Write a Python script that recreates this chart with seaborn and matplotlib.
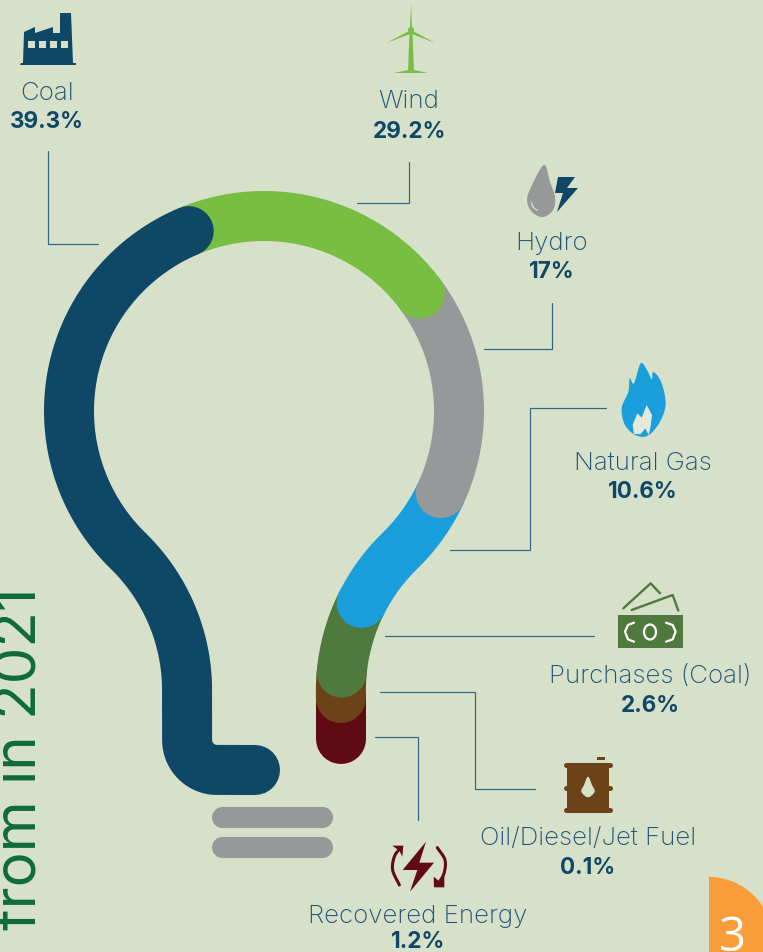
import numpy as np
import pandas as pd
import matplotlib
matplotlib.use('Agg')
import matplotlib.pyplot as plt
import seaborn as sns
from matplotlib.patches import Polygon, Rectangle, Wedge, Circle, Ellipse

# values
sources = ['Coal', 'Wind', 'Hydro', 'Natural Gas', 'Purchases (Coal)', 'Oil/Diesel/Jet Fuel', 'Recovered Energy']
shares = [39.3, 29.2, 17, 10.6, 2.6, 0.1, 1.2]
side_text = 'from in 2021'
page_number = '3'

# colours
BG = '#d7e0c9'
NAVY = '#0f4767'
GREEN = '#78be43'
GREY = '#97989a'
BLUE = '#1a9fdc'
MONEY = '#4f7a3d'
BROWN = '#6c4319'
MAROON = '#600a14'
LEAD = '#2f6589'
TEXT = '#1d5377'
colors = [NAVY, GREEN, GREY, BLUE, MONEY, BROWN, MAROON]

sns.set_theme(style='white')
plt.rcParams['font.family'] = ['Inter', 'DejaVu Sans']

fig = plt.figure(figsize=(7.63, 9.52), dpi=100, facecolor=BG)
ax = fig.add_axes([0, 0, 1, 1], facecolor=BG)


# smooth curve through some points (catmull-rom), only for the icons
def smooth(pts, n=24, closed=False):
    p = np.array(pts, dtype=float)
    if closed:
        p = np.vstack([p[-1], p, p[0], p[1]])
    else:
        p = np.vstack([2 * p[0] - p[1], p, 2 * p[-1] - p[-2]])
    out = []
    for i in range(1, len(p) - 2):
        for t in np.linspace(0, 1, n, endpoint=False):
            a = 2 * p[i] + (p[i + 1] - p[i - 1]) * t
            b = (2 * p[i - 1] - 5 * p[i] + 4 * p[i + 1] - p[i + 2]) * t ** 2
            c = (-p[i - 1] + 3 * p[i] - 3 * p[i + 1] + p[i + 2]) * t ** 3
            out.append(0.5 * (a + b + c))
    out.append(p[-2])
    return np.array(out)


def arc(a0, a1, cx=264, cy=411, r=195, n=80):
    t = np.radians(np.linspace(a0, a1, n))
    return np.column_stack([cx + r * np.cos(t), cy + r * np.sin(t)])


# centre line of the bulb, one piece per source
# the neck is two more circles touching the globe, so they must sit exactly 2r away
TOUCH = 45.8
neck_dx = 390 * np.cos(np.radians(TOUCH))
neck_y = 411 + 390 * np.sin(np.radians(TOUCH))
right_cx = 264 + neck_dx
left_cx = 264 - neck_dx
left_x = left_cx + 195
right_x = right_cx - 195

coal_path = np.vstack([
    [[255, 770], [left_x + 30, 770]],
    arc(90, 180, left_x + 30, 740, 30, 20)[1:],
    arc(0, -TOUCH, left_cx, neck_y, 195),
    arc(180 - TOUCH, 247.3)[1:],
])
wind_path = arc(247.3, 323)
hydro_path = arc(323, 384.9)
gas_path = np.vstack([arc(24.9, TOUCH), arc(180 + TOUCH, 206.7, right_cx, neck_y, 195)[1:]])
purchases_path = arc(206.7, 185.3, right_cx, neck_y, 195)
oil_path = np.vstack([arc(185.3, 180, right_cx, neck_y, 195), [[right_x, 698]]])
recovered_path = np.array([[right_x, 698], [right_x, 739]])
paths = [coal_path, wind_path, hydro_path, gas_path, purchases_path, oil_path, recovered_path]

# the tail piece goes first, coal ends up on top
for i in range(len(sources) - 1, -1, -1):
    seg = pd.DataFrame({'x': paths[i][:, 0], 'y': paths[i][:, 1]})
    sns.lineplot(data=seg, x='x', y='y', ax=ax, sort=False, estimator=None, color=colors[i],
                 linewidth=36, solid_capstyle='round', solid_joinstyle='round', legend=False)

# bulb screw bars
for yb in [816.5, 846.5]:
    ax.plot([221.5, 321.5], [yb, yb], color=GREY, lw=15.2, solid_capstyle='round')

# leader lines
leaders = [
    [(47.5, 151), (47.5, 243.5), (97.5, 243.5)],
    [(409, 162), (409, 203), (357, 203)],
    [(552, 303), (552, 349), (483.5, 349)],
    [(606, 408), (530, 408), (530, 550), (450, 550)],
    [(385, 636), (594, 636)],
    [(380, 692), (474.5, 692), (474.5, 789), (535, 789)],
    [(375, 737), (418, 737), (418, 820)],
]
for pts in leaders:
    xs, ys = zip(*pts)
    ax.plot(xs, ys, color=LEAD, lw=0.85, solid_joinstyle='miter')

# labels
label_pos = [(47, 92, 121), (409, 100, 130), (552, 242, 271), (643, 462, 491),
             (650, 675, 704), (588, 837, 866), (418, 915, 940)]
for name, val, (lx, y1, y2) in zip(sources, shares, label_pos):
    ax.text(lx, y1 + 1.5, name, ha='center', va='center', fontsize=18.6, color=TEXT, fontweight='light')
    ax.text(lx, y2 + 1.5, f'{val:g}%', ha='center', va='center', fontsize=16.2, color=NAVY, fontweight='bold')


def poly(pts, c, z=3):
    ax.add_patch(Polygon(pts, closed=True, facecolor=c, edgecolor='none', zorder=z))


# factory
poly([(24, 32), (35, 27), (35, 33), (53, 27), (53, 33), (60, 33), (60, 13), (71, 13), (73, 63),
      (76, 63), (76, 65), (20, 65), (21, 63), (23, 63)], NAVY)
for wx in [28, 38.5, 49.5, 60.5]:
    ax.add_patch(Rectangle((wx, 41), 7, 7, facecolor=BG, edgecolor='none', zorder=4))

# wind turbine
poly([(409.5, 32), (412.5, 32), (414, 72), (408, 72)], GREEN)
poly([(394, 73), (428, 73), (414, 70), (408, 70)], GREEN)
poly([(410, 28), (411, 4), (412, 28)], GREEN)
poly([(409, 31), (386.5, 43), (410, 34)], GREEN)
poly([(413, 31), (435, 43), (412, 34)], GREEN)
ax.add_patch(Circle((411, 30), 3, facecolor=GREEN, edgecolor='none', zorder=3))

# hydro drop + bolt
poly(smooth([(544, 165), (550, 182), (555, 197), (553, 210), (543, 217), (532, 212), (527, 200),
             (532, 185)], closed=True), GREY)
poly(smooth([(532, 202), (534, 207), (538, 210)], n=6).tolist() + [(537, 211), (532, 207), (531, 202)], BG)
poly([(556, 177), (574, 177), (566, 189), (577, 189), (557, 212), (562, 193), (555, 193)], BG, 3)
poly([(558, 177), (575, 177), (567, 188), (578, 188), (557, 212), (563, 193), (555, 193)], NAVY, 4)


# flame, zoom pixel coords -> picture
def zz(pts):
    return [(x / 3 + 280, y / 3 + 350) for x, y in pts]


poly(smooth(zz([(1082, 40), (1102, 62), (1115, 88), (1120, 66), (1143, 95), (1157, 160), (1140, 215),
                (1105, 256), (1068, 256), (1035, 225), (1025, 175), (1045, 125), (1049, 85), (1062, 100)]),
            closed=True), BLUE)
poly(zz([(1100, 165), (1116, 195), (1112, 228), (1106, 255), (1096, 235), (1082, 252), (1062, 252), (1058, 225),
         (1072, 190), (1085, 203)]), '#e4eadb', 4)

# money
poly(zz([(1013, 795), (1208, 795), (1208, 895), (1013, 895)]), MONEY)
ax.add_patch(Ellipse((650, 632), 12, 15, facecolor='none', edgecolor='white', lw=1.6, zorder=4))
ax.plot(*zip(*zz([(1062, 818), (1044, 825), (1035, 845), (1044, 868), (1062, 875)])), color='white', lw=1.6, zorder=4)
ax.plot(*zip(*zz([(1158, 818), (1178, 825), (1187, 845), (1178, 868), (1158, 875)])), color='white', lw=1.6, zorder=4)
ax.plot(*zip(*zz([(1030, 775), (1112, 700), (1140, 730)])), color=MONEY, lw=1.7, zorder=3)
ax.plot(*zip(*zz([(1055, 780), (1178, 735), (1195, 782)])), color=MONEY, lw=1.7, zorder=3)


def zb(pts):
    return [(x / 3 + 360, y / 3 + 680) for x, y in pts]


# oil barrel
poly(zb([(622, 248), (748, 248), (748, 395), (622, 395)]), BROWN)
for y0, y1 in [(245, 262), (315, 332), (382, 398)]:
    ax.plot(*zip(*zb([(618, (y0 + y1) / 2), (750, (y0 + y1) / 2)])), color=BROWN, lw=3.6,
            solid_capstyle='round', zorder=3)
poly(zb([(712, 232), (735, 232), (735, 241), (712, 241)]), BROWN)
poly(smooth(zb([(684, 290), (696, 315), (704, 335), (684, 352), (664, 335), (672, 315)]), closed=True), BG, 4)

# recovered energy
poly(zb([(198, 485), (128, 570), (172, 570), (150, 635), (222, 548), (178, 548)]), MAROON)
ax.plot(*zip(*smooth(zb([(118, 615), (98, 570), (103, 530), (120, 505)]))), color=MAROON, lw=2.2, zorder=3)
poly(zb([(97, 497), (130, 497), (127, 530), (118, 512)]), MAROON)
ax.plot(*zip(*smooth(zb([(232, 503), (255, 540), (252, 580), (236, 610)]))), color=MAROON, lw=2.2, zorder=3)
poly(zb([(221, 590), (238, 604), (253, 590), (253, 622), (222, 622)]), MAROON)

# side text, cut by the page edge
ax.text(36, 587, side_text, rotation=90, rotation_mode='anchor', ha='right', va='baseline',
        fontsize=42, color='#0f6b3b', fontweight='normal', zorder=2)

# page tab
ax.add_patch(Wedge((709, 940.6), 63.6, 270, 360, facecolor='#f99d3a', edgecolor='none', zorder=2))
ax.add_patch(Rectangle((709, 940), 54, 12, facecolor='#f99d3a', edgecolor='none', zorder=2))
ax.text(732, 951, page_number, ha='center', va='baseline', fontsize=34, color='white',
        family=['Open Sans', 'DejaVu Sans'], zorder=3)

ax.set_xlim(0, 763)
ax.set_ylim(952, 0)
ax.set_xlabel('')
ax.set_ylabel('')
ax.axis('off')

fig.savefig('out.png', dpi=100, facecolor=BG)
